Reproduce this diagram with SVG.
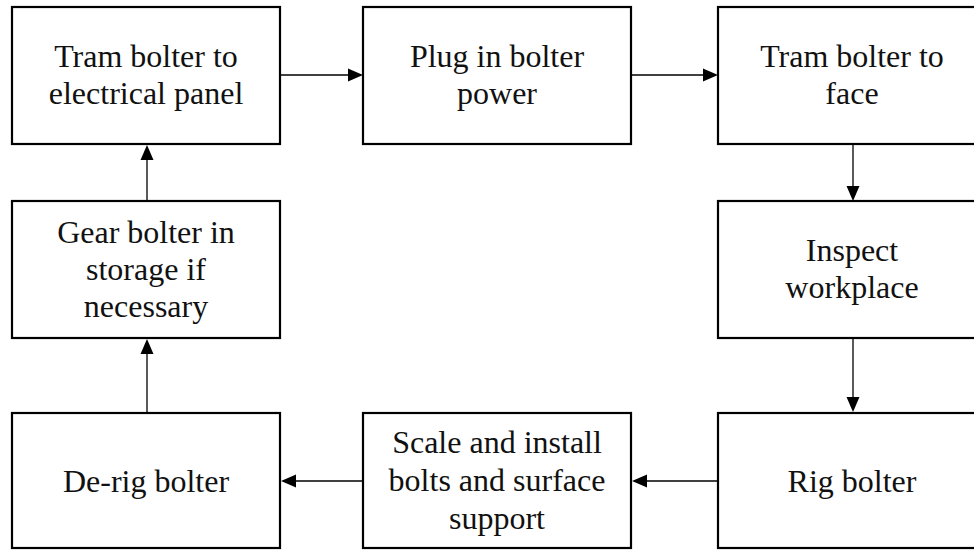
<svg xmlns="http://www.w3.org/2000/svg" width="974" height="550" viewBox="0 0 974 550">
<style>
.box{fill:#fff;stroke:#000;stroke-width:2.2}
.t{font-family:"Liberation Serif","Times New Roman",serif;font-size:32px;fill:#111;text-anchor:middle}
.c{stroke:#000;stroke-width:1.3;fill:none}
.ah{fill:#000}
</style>
<rect width="974" height="550" fill="#fff"/>
<g id="connectors">
<line class="c" x1="281" y1="75" x2="349" y2="75"/><polygon class="ah" points="363,75 348,68.5 348,81.5"/>
<line class="c" x1="632" y1="75" x2="704" y2="75"/><polygon class="ah" points="718,75 703,68.5 703,81.5"/>
<line class="c" x1="853" y1="145" x2="853" y2="188"/><polygon class="ah" points="853,201 846.5,186 859.5,186"/>
<line class="c" x1="853" y1="339" x2="853" y2="399"/><polygon class="ah" points="853,412 846.5,397 859.5,397"/>
<line class="c" x1="717" y1="481" x2="645" y2="481"/><polygon class="ah" points="632,481 647,474.5 647,487.5"/>
<line class="c" x1="362" y1="481" x2="294" y2="481"/><polygon class="ah" points="281,481 296,474.5 296,487.5"/>
<line class="c" x1="147" y1="412" x2="147" y2="352"/><polygon class="ah" points="147,339 140.5,354 153.5,354"/>
<line class="c" x1="147" y1="200" x2="147" y2="158"/><polygon class="ah" points="147,145 140.5,160 153.5,160"/>
</g>
<g id="n1"><rect class="box" x="12" y="7" width="268" height="137"/><text class="t" x="146" y="67">Tram bolter to</text><text class="t" x="146" y="104">electrical  panel</text></g>
<g id="n2"><rect class="box" x="363" y="7" width="268" height="137"/><text class="t" x="497" y="67">Plug in bolter</text><text class="t" x="497" y="104">power</text></g>
<g id="n3"><rect class="box" x="718" y="7" width="270" height="137"/><text class="t" x="852" y="67">Tram bolter to</text><text class="t" x="852" y="104">face</text></g>
<g id="n4"><rect class="box" x="718" y="201" width="270" height="137"/><text class="t" x="852" y="261">Inspect</text><text class="t" x="852" y="298">workplace</text></g>
<g id="n5"><rect class="box" x="718" y="413" width="270" height="135"/><text class="t" x="852" y="492">Rig bolter</text></g>
<g id="n6"><rect class="box" x="363" y="413" width="268" height="135"/><text class="t" x="497" y="453">Scale and install</text><text class="t" x="497" y="491">bolts and surface</text><text class="t" x="497" y="529">support</text></g>
<g id="n7"><rect class="box" x="12" y="413" width="268" height="135"/><text class="t" x="146" y="492">De-rig bolter</text></g>
<g id="n8"><rect class="box" x="12" y="201" width="268" height="137"/><text class="t" x="146" y="243">Gear bolter in</text><text class="t" x="146" y="280">storage if</text><text class="t" x="146" y="317">necessary</text></g>
</svg>
